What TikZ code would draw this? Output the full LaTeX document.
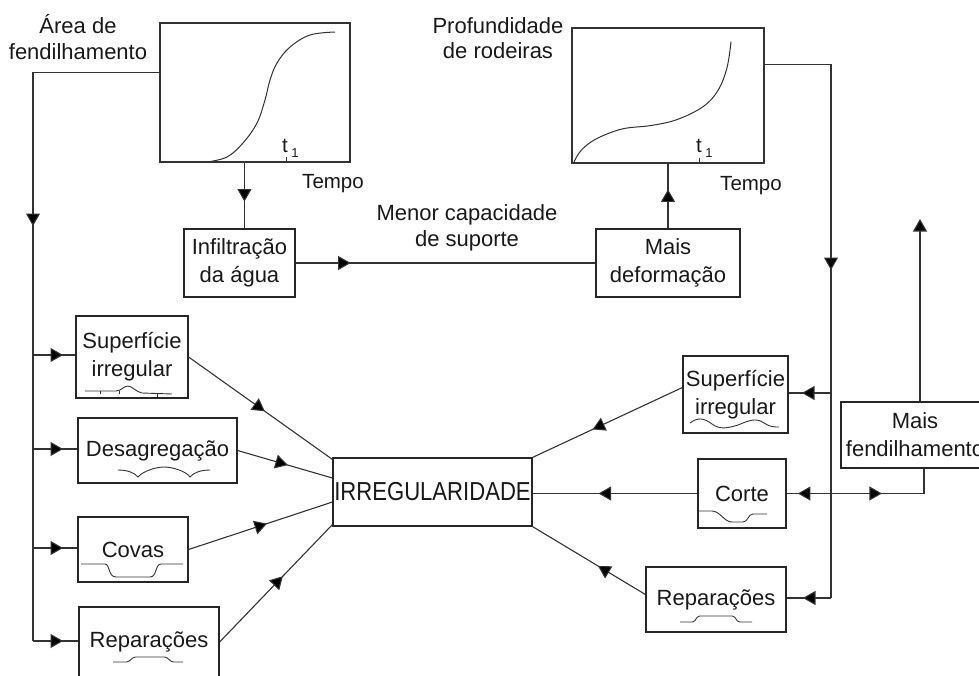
\documentclass[tikz,border=0pt]{standalone}
\usepackage{fontspec}
\setmainfont{Liberation Sans}
\usepackage{graphicx}
\usetikzlibrary{arrows.meta,decorations.markings,calc}

% type sizes used in the chart
\newcommand\dgfont{\fontsize{22}{28}\selectfont}
\newcommand\dglbl{\fontsize{22}{25.5}\selectfont}
\newcommand\dgsmall{\fontsize{20.5}{24}\selectfont}
\newcommand\dgsub{\fontsize{13}{13}\selectfont}
\newcommand\dgbig{\fontsize{26}{30}\selectfont}

\tikzset{
  ink/.style={draw=black!80, line width=1.1pt},
  box/.style={draw=black!85, line width=1.2pt, inner sep=0pt, align=center,
              font=\dgfont, text=black!90},
  plotbox/.style={draw=black!80, line width=1.1pt, inner sep=0pt},
  curve/.style={draw=black!80, line width=1pt},
  profile/.style={draw=black!80, line width=0.9pt},
  lbl/.style={align=center, font=\dglbl, text=black!90, inner sep=0pt},
  smalltxt/.style={font=\dgsmall, text=black!90, inner sep=0pt},
  tipshape/.tip={Triangle[length=12.5pt,width=14pt,fill=black]},
  arrowat/.style={postaction={decorate,
     decoration={markings, mark=at position #1 with {\arrow{tipshape}}}}},
  arrowback/.style={postaction={decorate,
     decoration={markings, mark=at position #1 with {\arrowreversed{tipshape}}}}},
}

\begin{document}
\begin{tikzpicture}[x=1pt,y=-1pt]
\useasboundingbox (0,0) rectangle (979,675);

% ---- crack area over time
\node[plotbox, minimum width=190pt, minimum height=139pt] (g1) at (255,92.5) {};
\draw[curve] plot[smooth, tension=0.6] coordinates
  {(207,162) (227,157) (243,143) (257,123) (265,100) (270,80) (277,63) (290,47) (310,35) (335,32)};
\draw[curve] (286,162) -- (286,157);
\node[smalltxt, anchor=west] (t1a) at (282,148) {t\,\raisebox{-5pt}{\dgsub 1}};
\node[smalltxt] (tempoA) at (333,184) {Tempo};
\node[lbl] (areaLbl) at (78,37) {Área de\\fendilhamento};

% ---- rut depth over time
\node[plotbox, minimum width=192pt, minimum height=135pt] (g2) at (668,95.5) {};
\draw[curve] plot[smooth, tension=0.6] coordinates
  {(574,162) (581,150.5) (596,139) (622,129) (651,125.5) (677,119.6) (703,106.7) (718,90.4) (727,67.7) (731,41.6)};
\draw[curve] (699,163) -- (699,158);
\node[smalltxt, anchor=west] (t1b) at (696,148) {t\,\raisebox{-5pt}{\dgsub 1}};
\node[smalltxt] (tempoB) at (751,186) {Tempo};
\node[lbl] (profLbl) at (498,38) {Profundidade\\de rodeiras};

% ---- middle row
\node[box, minimum width=111pt, minimum height=68pt] (infil) at (239.5,263) {Infiltração\\da água};
\node[box, minimum width=144pt, minimum height=68pt] (mdef) at (668,263) {Mais\\deformação};
\node[lbl] (menor) at (467,228) {Menor capacidade\\de suporte};

% ---- central box
\node[box, minimum width=199pt, minimum height=68pt, font=\dgbig] (irr) at (432.5,492)
  {\scalebox{0.85}[1]{IRREGULARIDADE}};

% ---- left column
\node[box, minimum width=112pt, minimum height=82pt] (supL) at (132,357) {Superfície\\irregular};
\node[box, minimum width=159pt, minimum height=65pt] (desag) at (157.5,450.5) {Desagregação};
\node[box, minimum width=110pt, minimum height=65pt] (covas) at (133,549.5) {Covas};
\node[box, minimum width=140pt, minimum height=70pt] (repL) at (149,642) {Reparações};

% ---- right column
\node[box, minimum width=105pt, minimum height=77pt] (supR) at (735.5,394.5) {Superfície\\irregular};
\node[box, minimum width=88pt, minimum height=69pt] (corte) at (742,493.5) {Corte};
\node[box, minimum width=140pt, minimum height=65pt] (repR) at (716,599.5) {Reparações};
\node[box, minimum width=148pt, minimum height=66pt] (mf) at (915,435) {Mais\\fendilhamento};

% ---- small surface profiles inside the boxes
\draw[profile] (85,391) -- (116,391) .. controls (121,391) and (124,386) .. (128,386)
  .. controls (132,386) and (136,392) .. (142,393) -- (172,394);
\draw[profile] (100,391) -- (100,394) (119,391) -- (119,394) (157,393) -- (157,397);
\draw[profile] (118,470) .. controls (126,470) and (134,472) .. (138,477)
  .. controls (144,470) and (158,467) .. (164,467)
  .. controls (172,467) and (186,471) .. (190,477)
  .. controls (194,472) and (202,470) .. (210,470);
\draw[profile] (81,564) -- (105,564) .. controls (110,564) and (108,577) .. (116,577) -- (150,577)
  .. controls (157,577) and (155,564) .. (161,564) -- (183,564);
\draw[profile, rounded corners=1.5pt] (113,662) -- (128,662) -- (134,657) -- (166,657) -- (172,662) -- (183,662);
\draw[profile] (690,423) .. controls (698,417) and (704,418) .. (712,424)
  .. controls (720,430) and (728,428) .. (738,425)
  .. controls (748,421) and (756,417) .. (764,423)
  .. controls (770,427) and (774,427) .. (779,427);
\draw[profile] (699,511) -- (712,511) .. controls (720,511) and (724,522) .. (732,522) -- (743,522)
  .. controls (748,522) and (748,514) .. (753,514) -- (767,514);
\draw[profile, rounded corners=1.5pt] (680,622) -- (694,622) -- (698,616) -- (734,616) -- (738,622) -- (752,622);

% ---- left feed line and its branches
\coordinate (tL0) at ($(g1.north west)+(0,50)$);
\coordinate (tL1) at (33,355);
\coordinate (tL2) at (33,449);
\coordinate (tL3) at (33,548);
\coordinate (tL4) at (33,641);
\draw[ink, arrowat=280pt] (tL0) -| (tL4);
\draw[ink, arrowat=30pt] (tL1) -- (tL1 -| supL.west);
\draw[ink, arrowat=30pt] (tL2) -- (tL2 -| desag.west);
\draw[ink, arrowat=30pt] (tL3) -- (tL3 -| covas.west);
\draw[ink, arrowat=30pt] (tL4) -- (tL4 -| repL.west);

% ---- left boxes into the central box
\draw[ink, arrowat=0.53] (supL.east) -- ([yshift=-2pt]irr.north west);
\draw[ink, arrowat=0.53] (desag.east) -- ([yshift=14pt]irr.west);
\draw[ink, arrowat=0.545] (covas.east) -- ([yshift=-10pt]irr.west);
\draw[ink, arrowat=0.56] (repL.east) -- ([yshift=2pt]irr.south west);

% ---- right boxes into the central box
\draw[ink, arrowat=0.6] ([yshift=7pt]supR.west) -- (irr.north east);
\draw[ink, arrowat=0.6] (corte.west) -- (corte.west -| irr.east);
\draw[ink, arrowat=0.42] ([yshift=5pt]repR.west) -- (irr.south east);

% ---- top chain
\coordinate (a1) at ($(g1.south west)+(85,0)$);
\draw[ink, arrowat=39pt] (a1) -- (a1 |- infil.north);
\draw[ink, arrowat=55pt] (infil.east) -- (mdef.west);
\draw[ink, arrowat=39pt] (mdef.north) -- (mdef.north |- g2.south);

% ---- right feed line and its branches
\coordinate (tR0) at ($(g2.north east)+(0,37)$);
\coordinate (tR1) at (831,393);
\coordinate (tR3) at (831,598);
\draw[ink, arrowat=272pt] (tR0) -| (tR3);
\draw[ink, arrowat=29pt] (tR1) -- (tR1 -| supR.east);
\draw[ink, arrowat=28pt] (tR3) -- (tR3 -| repR.east);

% ---- more cracking
\coordinate (mfB) at ($(mf.south)+(9,0)$);
\draw[ink, arrowback=67pt, arrowat=151pt] (mfB) |- (corte.east);
\coordinate (mfT) at (920,219);
\draw[ink, -{tipshape}] ($(mf.north)+(5,0)$) -- (mfT);

\end{tikzpicture}
\end{document}
